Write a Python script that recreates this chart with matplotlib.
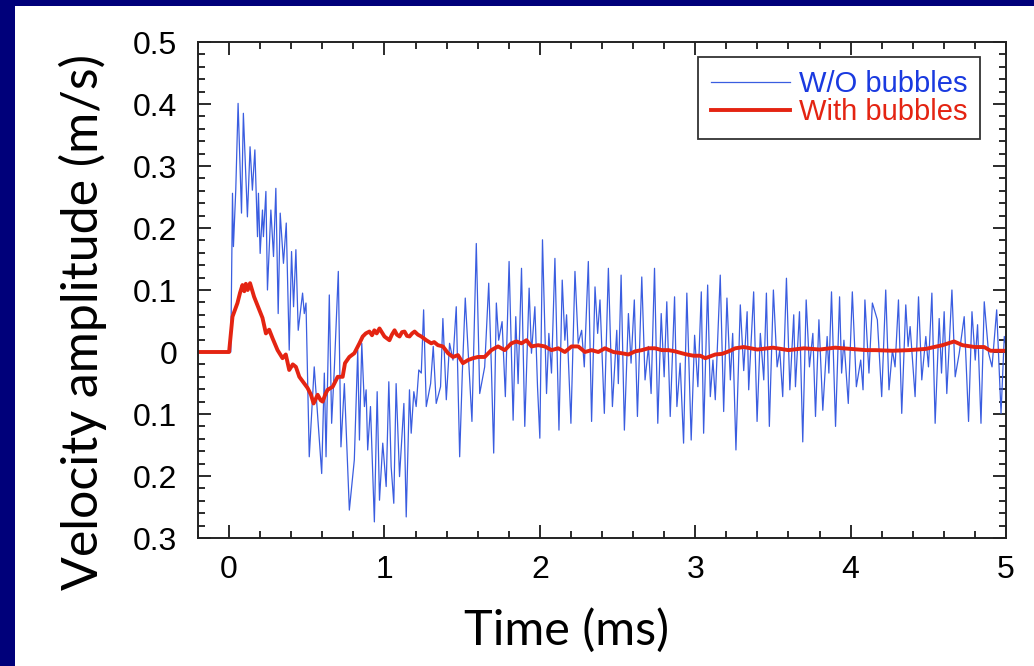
import numpy as np
import matplotlib
matplotlib.use("Agg")
import matplotlib.pyplot as plt
from matplotlib.ticker import MultipleLocator

# W/O bubbles (time in ms, velocity in m/s)
t_blue = [-0.2, 0.0, 0.011, 0.022, 0.028, 0.043, 0.058, 0.080, 0.092, 0.118, 0.135, 0.150, 0.166,
          0.183, 0.189, 0.200, 0.215, 0.221, 0.237, 0.247, 0.269, 0.286, 0.301, 0.316, 0.329,
          0.350, 0.368, 0.387, 0.402, 0.415, 0.430, 0.445, 0.473, 0.484, 0.495, 0.516, 0.548,
          0.596, 0.613, 0.624, 0.645, 0.660, 0.677, 0.703, 0.720, 0.742, 0.774, 0.806, 0.828,
          0.839, 0.854, 0.871, 0.882, 0.892, 0.910, 0.935, 0.953, 0.968, 0.989, 1.011, 1.028,
          1.043, 1.060, 1.075, 1.097, 1.125, 1.140, 1.161, 1.172, 1.189, 1.204, 1.221, 1.237,
          1.252, 1.269, 1.297, 1.314, 1.333, 1.361, 1.376, 1.398, 1.419, 1.441, 1.462, 1.484,
          1.501, 1.520, 1.538, 1.563, 1.591, 1.613, 1.645, 1.671, 1.688, 1.703, 1.720, 1.735,
          1.757, 1.778, 1.802, 1.828, 1.845, 1.860, 1.882, 1.903, 1.931, 1.946, 1.968, 1.985,
          2.000, 2.017, 2.043, 2.058, 2.075, 2.097, 2.123, 2.144, 2.161, 2.172, 2.200, 2.226,
          2.247, 2.269, 2.286, 2.312, 2.333, 2.355, 2.372, 2.387, 2.415, 2.441, 2.467, 2.495,
          2.505, 2.523, 2.544, 2.570, 2.587, 2.608, 2.628, 2.656, 2.677, 2.699, 2.716, 2.738,
          2.759, 2.781, 2.800, 2.817, 2.839, 2.867, 2.882, 2.903, 2.925, 2.946, 2.974, 2.996,
          3.017, 3.039, 3.054, 3.080, 3.097, 3.114, 3.129, 3.161, 3.183, 3.204, 3.226, 3.241,
          3.262, 3.290, 3.312, 3.334, 3.344, 3.376, 3.398, 3.419, 3.441, 3.458, 3.477, 3.503,
          3.527, 3.544, 3.563, 3.587, 3.609, 3.634, 3.645, 3.671, 3.692, 3.714, 3.735, 3.757,
          3.774, 3.796, 3.821, 3.849, 3.860, 3.877, 3.903, 3.929, 3.942, 3.957, 3.985, 4.011,
          4.037, 4.065, 4.080, 4.092, 4.118, 4.140, 4.172, 4.200, 4.226, 4.247, 4.269, 4.286,
          4.308, 4.329, 4.355, 4.370, 4.383, 4.415, 4.437, 4.458, 4.484, 4.501, 4.523, 4.544,
          4.570, 4.585, 4.602, 4.619, 4.652, 4.673, 4.699, 4.731, 4.759, 4.781, 4.802, 4.817,
          4.839, 4.860, 4.888, 4.910, 4.940, 4.968, 4.989, 5.0]
v_blue = [0.0, 0.0, 0.0, 0.256, 0.170, 0.261, 0.401, 0.224, 0.385, 0.218, 0.331, 0.261, 0.326,
          0.186, 0.256, 0.159, 0.229, 0.186, 0.259, 0.100, 0.229, 0.154, 0.264, 0.062, 0.224,
          0.143, 0.208, 0.003, 0.162, 0.073, 0.165, 0.035, 0.095, 0.062, 0.079, -0.169, -0.024,
          -0.196, -0.034, -0.169, 0.092, -0.115, -0.029, 0.130, -0.153, -0.051, -0.255, -0.174, 0.003,
          -0.142, 0.014, -0.088, -0.061, -0.158, -0.088, -0.274, -0.064, -0.239, -0.147, -0.217, -0.048,
          -0.185, -0.244, -0.051, -0.201, -0.083, -0.266, -0.061, -0.131, -0.064, -0.088, -0.029, -0.034,
          0.068, -0.088, -0.051, 0.009, -0.083, -0.056, 0.054, -0.077, 0.014, -0.013, 0.073, -0.169,
          -0.034, 0.087, 0.003, -0.112, 0.175, -0.067, -0.024, 0.111, -0.024, -0.163, 0.079, 0.019,
          0.049, -0.072, 0.146, -0.110, 0.057, -0.051, 0.135, -0.120, 0.103, -0.002, 0.073, -0.056,
          -0.139, 0.181, -0.067, 0.030, -0.034, 0.151, -0.126, 0.116, 0.019, 0.060, -0.115, 0.130,
          0.014, 0.035, -0.024, 0.146, -0.112, 0.105, 0.030, 0.084, -0.099, 0.135, -0.088, 0.035,
          -0.051, 0.124, -0.126, 0.062, -0.018, 0.084, -0.104, 0.121, -0.045, 0.009, -0.067, 0.135,
          -0.115, 0.062, -0.040, 0.081, -0.104, 0.089, -0.088, -0.018, -0.147, 0.095, -0.142, 0.027,
          -0.056, 0.097, -0.131, 0.108, -0.072, -0.013, -0.077, 0.124, -0.096, 0.087, -0.045, 0.030,
          -0.158, 0.076, -0.030, 0.065, -0.061, 0.097, -0.112, 0.030, -0.045, 0.095, -0.120, 0.100,
          -0.024, 0.003, -0.072, 0.119, -0.061, 0.060, -0.056, 0.065, -0.145, 0.084, -0.024, 0.030,
          -0.104, 0.052, -0.094, 0.025, -0.034, 0.097, -0.120, 0.089, -0.034, 0.019, -0.083, 0.097,
          -0.056, -0.013, -0.061, 0.084, -0.034, 0.079, 0.052, -0.072, 0.100, -0.061, 0.003, -0.024,
          0.084, -0.099, 0.076, 0.009, 0.041, -0.072, 0.089, -0.045, 0.025, -0.024, 0.095, -0.115,
          0.054, -0.034, 0.065, -0.067, 0.100, -0.040, -0.002, 0.057, -0.112, 0.065, -0.013, 0.044,
          -0.115, 0.081, -0.002, -0.024, 0.068, -0.099, 0.025, 0.010]

# With bubbles
t_red = [-0.2, 0.0, 0.022, 0.054, 0.070, 0.086, 0.098, 0.108, 0.120, 0.135, 0.161, 0.194, 0.215,
         0.237, 0.258, 0.280, 0.312, 0.344, 0.365, 0.387, 0.410, 0.430, 0.452, 0.484, 0.505,
         0.527, 0.544, 0.570, 0.590, 0.602, 0.620, 0.634, 0.667, 0.699, 0.731, 0.746, 0.774,
         0.806, 0.839, 0.860, 0.880, 0.903, 0.920, 0.935, 0.950, 0.968, 0.985, 1.000, 1.032,
         1.048, 1.065, 1.080, 1.097, 1.113, 1.129, 1.145, 1.161, 1.178, 1.194, 1.215, 1.237,
         1.269, 1.301, 1.320, 1.344, 1.376, 1.409, 1.441, 1.473, 1.505, 1.538, 1.570, 1.602,
         1.645, 1.688, 1.731, 1.774, 1.817, 1.849, 1.882, 1.914, 1.946, 1.989, 2.032, 2.075,
         2.118, 2.161, 2.204, 2.247, 2.290, 2.333, 2.376, 2.419, 2.473, 2.527, 2.570, 2.613,
         2.656, 2.699, 2.742, 2.785, 2.828, 2.871, 2.914, 2.946, 2.989, 3.032, 3.065, 3.097,
         3.129, 3.172, 3.215, 3.258, 3.312, 3.40, 3.50, 3.60, 3.70, 3.80, 3.90, 4.00,
         4.10, 4.161, 4.269, 4.376, 4.484, 4.591, 4.666, 4.72, 4.80, 4.86, 4.90, 5.0]
v_red = [0.0, 0.0, 0.057, 0.079, 0.095, 0.108, 0.098, 0.110, 0.100, 0.111, 0.089, 0.068, 0.055,
         0.030, 0.036, 0.022, 0.003, -0.010, -0.004, -0.029, -0.020, -0.024, -0.040, -0.051, -0.058,
         -0.069, -0.083, -0.069, -0.078, -0.080, -0.068, -0.061, -0.056, -0.040, -0.040, -0.018, -0.008,
         -0.002, 0.014, 0.025, 0.030, 0.033, 0.027, 0.035, 0.030, 0.038, 0.031, 0.025, 0.019,
         0.028, 0.035, 0.028, 0.025, 0.032, 0.033, 0.026, 0.025, 0.030, 0.033, 0.028, 0.025,
         0.019, 0.014, 0.016, 0.011, 0.009, -0.002, -0.008, -0.005, -0.018, -0.013, -0.010, -0.008,
         -0.008, 0.003, 0.009, 0.003, 0.014, 0.017, 0.014, 0.019, 0.009, 0.011, 0.009, 0.003,
         0.006, 0.000, 0.009, 0.009, 0.000, 0.003, 0.000, 0.006, 0.000, -0.002, -0.004, 0.001,
         0.003, 0.006, 0.006, 0.003, 0.003, 0.001, -0.002, -0.004, -0.006, -0.006, -0.010, -0.007,
         -0.004, -0.003, 0.001, 0.006, 0.008, 0.004, 0.007, 0.003, 0.006, 0.004, 0.007, 0.005,
         0.003, 0.003, 0.002, 0.003, 0.005, 0.011, 0.017, 0.011, 0.008, 0.008, 0.002, 0.002]

ytick_vals = [-0.3, -0.2, -0.1, 0.0, 0.1, 0.2, 0.3, 0.4, 0.5]
ytick_labels = ['0.3', '0.2', '0.1', '0', '0.1', '0.2', '0.3', '0.4', '0.5']
xtick_vals = [0, 1, 2, 3, 4, 5]

W, H = 1034, 666
fig = plt.figure(figsize=(W / 100, H / 100), dpi=100)
fig.patch.set_facecolor('#00007a')

# white slide area: navy shows only along the top and left edges
bg = fig.add_axes([15 / W, 0, 1 - 15 / W, 1 - 6 / H], zorder=-5)
bg.set_facecolor('white')
bg.set_xticks([])
bg.set_yticks([])
for s in bg.spines.values():
    s.set_visible(False)

ax = fig.add_axes([198 / W, 1 - 538 / H, (1006 - 198) / W, (538 - 42) / H])
ax.plot(t_blue, v_blue, color='#3a5de0', lw=0.9, label='W/O bubbles')
ax.plot(t_red, v_red, color='#e42412', lw=2.8, label='With bubbles')

ax.set_xlim(-0.2, 5.0)
ax.set_ylim(-0.3, 0.5)
ax.set_xticks(xtick_vals)
ax.set_yticks(ytick_vals)
ax.set_yticklabels(ytick_labels)
ax.xaxis.set_minor_locator(MultipleLocator(0.2))
ax.yaxis.set_minor_locator(MultipleLocator(0.02))
ax.tick_params(which='both', direction='in', top=True, right=True, width=1.3, colors='#1a1a1a')
ax.tick_params(which='major', length=9.5, labelsize=23)
ax.tick_params(which='minor', length=5)
ax.tick_params(axis='x', which='major', pad=12)
ax.tick_params(axis='y', which='major', pad=15)
for lab in ax.get_xticklabels() + ax.get_yticklabels():
    lab.set_fontfamily('Liberation Sans')
    lab.set_color('black')
for s in ax.spines.values():
    s.set_linewidth(1.4)
    s.set_color('#222222')

leg = ax.legend(loc='upper right', bbox_to_anchor=(0.968, 0.970), borderaxespad=0, fancybox=False,
                edgecolor='#333333', framealpha=1, handlelength=2.7, handletextpad=0.3,
                labelspacing=0.0, borderpad=0.45, prop={'family': 'Liberation Sans', 'size': 21})
leg.get_frame().set_linewidth(1.3)
for txt, c in zip(leg.get_texts(), ['#1a3ae0', '#e42412']):
    txt.set_color(c)

fig.text(83 / W, 1 - 322 / H, 'Velocity amplitude (m/s)', rotation=90, ha='center', va='center',
         fontsize=36, family='Lato', color='black')
fig.text(567 / W, 1 - 630 / H, 'Time (ms)', ha='center', va='center',
         fontsize=35, family='Lato', color='black')

fig.savefig('out.png', dpi=100, facecolor=fig.get_facecolor())
